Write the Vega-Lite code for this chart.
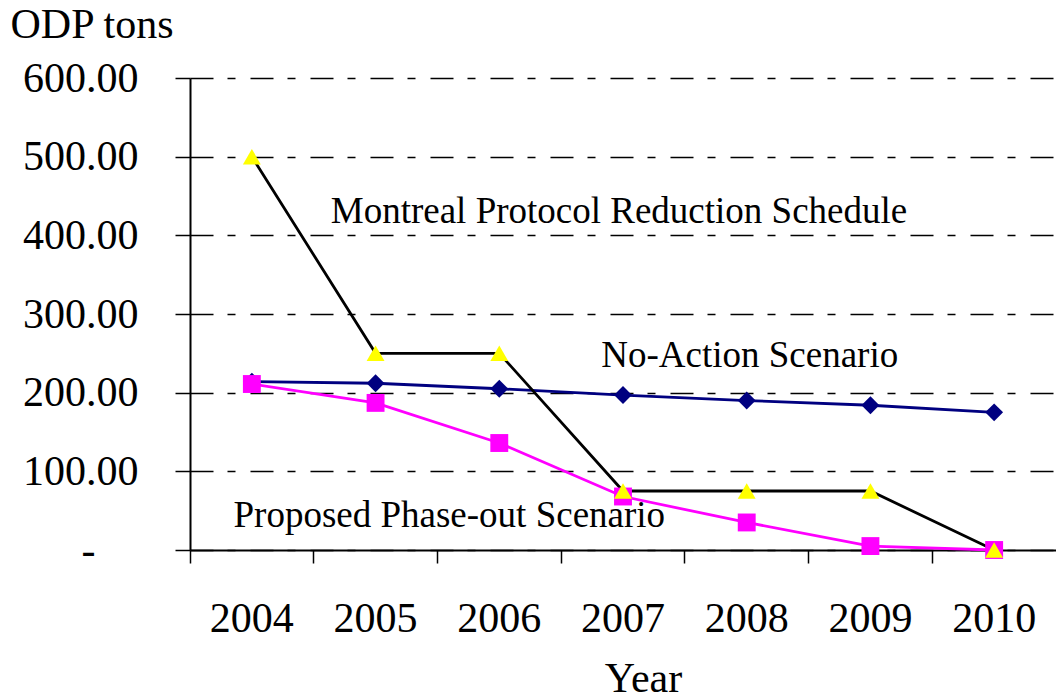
{
  "$schema": "https://vega.github.io/schema/vega-lite/v6.json",
  "width": 866,
  "height": 472,
  "autosize": {"type": "none"},
  "padding": {"left": 190, "top": 78, "right": 0, "bottom": 150},
  "background": "white",
  "config": {"font": "Liberation Serif", "view": {"stroke": null}},
  "data": {
    "values": [
      {"year": "2004", "odp": 214, "series": "No-Action Scenario"},
      {"year": "2005", "odp": 212, "series": "No-Action Scenario"},
      {"year": "2006", "odp": 205, "series": "No-Action Scenario"},
      {"year": "2007", "odp": 197, "series": "No-Action Scenario"},
      {"year": "2008", "odp": 190, "series": "No-Action Scenario"},
      {"year": "2009", "odp": 184, "series": "No-Action Scenario"},
      {"year": "2010", "odp": 175, "series": "No-Action Scenario"},
      {"year": "2004", "odp": 211, "series": "Proposed Phase-out Scenario"},
      {"year": "2005", "odp": 187, "series": "Proposed Phase-out Scenario"},
      {"year": "2006", "odp": 136, "series": "Proposed Phase-out Scenario"},
      {"year": "2007", "odp": 68, "series": "Proposed Phase-out Scenario"},
      {"year": "2008", "odp": 35, "series": "Proposed Phase-out Scenario"},
      {"year": "2009", "odp": 5, "series": "Proposed Phase-out Scenario"},
      {"year": "2010", "odp": 0, "series": "Proposed Phase-out Scenario"},
      {"year": "2004", "odp": 500, "series": "Montreal Protocol Reduction Schedule"},
      {"year": "2005", "odp": 250, "series": "Montreal Protocol Reduction Schedule"},
      {"year": "2006", "odp": 250, "series": "Montreal Protocol Reduction Schedule"},
      {"year": "2007", "odp": 75, "series": "Montreal Protocol Reduction Schedule"},
      {"year": "2008", "odp": 75, "series": "Montreal Protocol Reduction Schedule"},
      {"year": "2009", "odp": 75, "series": "Montreal Protocol Reduction Schedule"},
      {"year": "2010", "odp": 0, "series": "Montreal Protocol Reduction Schedule"}
    ]
  },
  "encoding": {
    "x": {
      "field": "year",
      "type": "nominal",
      "scale": {"type": "band", "paddingInner": 0, "paddingOuter": 0},
      "axis": {
        "title": "Year",
        "labelAngle": 0,
        "labelFontSize": 42,
        "labelColor": "black",
        "labelPadding": 35,
        "tickSize": 13,
        "tickColor": "black",
        "tickWidth": 1.5,
        "bandPosition": 0,
        "domainColor": "black",
        "domainWidth": 2,
        "grid": false,
        "titleFontSize": 42,
        "titleFontWeight": "normal",
        "titleColor": "black",
        "titleX": 453,
        "titleY": 141,
        "titleBaseline": "alphabetic",
        "titleAlign": "center"
      }
    },
    "y": {
      "field": "odp",
      "type": "quantitative",
      "scale": {"domain": [0, 600], "nice": false},
      "axis": {
        "values": [0, 100, 200, 300, 400, 500, 600],
        "labelExpr": "datum.value == 0 ? '-' : format(datum.value, '.2f')",
        "labelFontSize": 42,
        "labelColor": "black",
        "labelPadding": {"condition": {"test": "datum.value == 0", "value": 80}, "value": 37},
        "tickSize": 15,
        "tickColor": "black",
        "tickWidth": 1.5,
        "domainColor": "black",
        "domainWidth": 2,
        "grid": true,
        "gridColor": "black",
        "gridWidth": 1.5,
        "gridDash": [23, 14, 8, 15],
        "title": "ODP tons",
        "titleAngle": 0,
        "titleAlign": "left",
        "titleBaseline": "alphabetic",
        "titleX": -180,
        "titleY": -41,
        "titleFontSize": 42,
        "titleFontWeight": "normal",
        "titleColor": "black"
      }
    }
  },
  "layer": [
    {
      "mark": {"type": "line", "strokeWidth": 2.8},
      "encoding": {
        "stroke": {
          "field": "series",
          "type": "nominal",
          "scale": {
            "domain": ["No-Action Scenario", "Proposed Phase-out Scenario", "Montreal Protocol Reduction Schedule"],
            "range": ["#000080", "#FF00FF", "#000000"]
          },
          "legend": null
        }
      }
    },
    {
      "mark": {"type": "point", "filled": true, "opacity": 1, "strokeWidth": 0, "size": 320},
      "encoding": {
        "fill": {
          "field": "series",
          "type": "nominal",
          "scale": {
            "domain": ["No-Action Scenario", "Proposed Phase-out Scenario", "Montreal Protocol Reduction Schedule"],
            "range": ["#000080", "#FF00FF", "#FFFF00"]
          },
          "legend": null
        },
        "shape": {
          "field": "series",
          "type": "nominal",
          "scale": {
            "domain": ["No-Action Scenario", "Proposed Phase-out Scenario", "Montreal Protocol Reduction Schedule"],
            "range": ["diamond", "square", "triangle-up"]
          },
          "legend": null
        }
      }
    },
    {
      "data": {"values": [{"year": "2007", "odp": 416, "label": "Montreal Protocol Reduction Schedule"}]},
      "mark": {"type": "text", "fontSize": 37, "align": "center", "baseline": "alphabetic", "dx": -4, "color": "black"},
      "encoding": {"text": {"field": "label"}}
    },
    {
      "data": {"values": [{"year": "2008", "odp": 233, "label": "No-Action Scenario"}]},
      "mark": {"type": "text", "fontSize": 37, "align": "center", "baseline": "alphabetic", "dx": 3, "color": "black"},
      "encoding": {"text": {"field": "label"}}
    },
    {
      "data": {"values": [{"year": "2006", "odp": 29, "label": "Proposed Phase-out Scenario"}]},
      "mark": {"type": "text", "fontSize": 37, "align": "center", "baseline": "alphabetic", "dx": -50, "color": "black"},
      "encoding": {"text": {"field": "label"}}
    }
  ]
}
